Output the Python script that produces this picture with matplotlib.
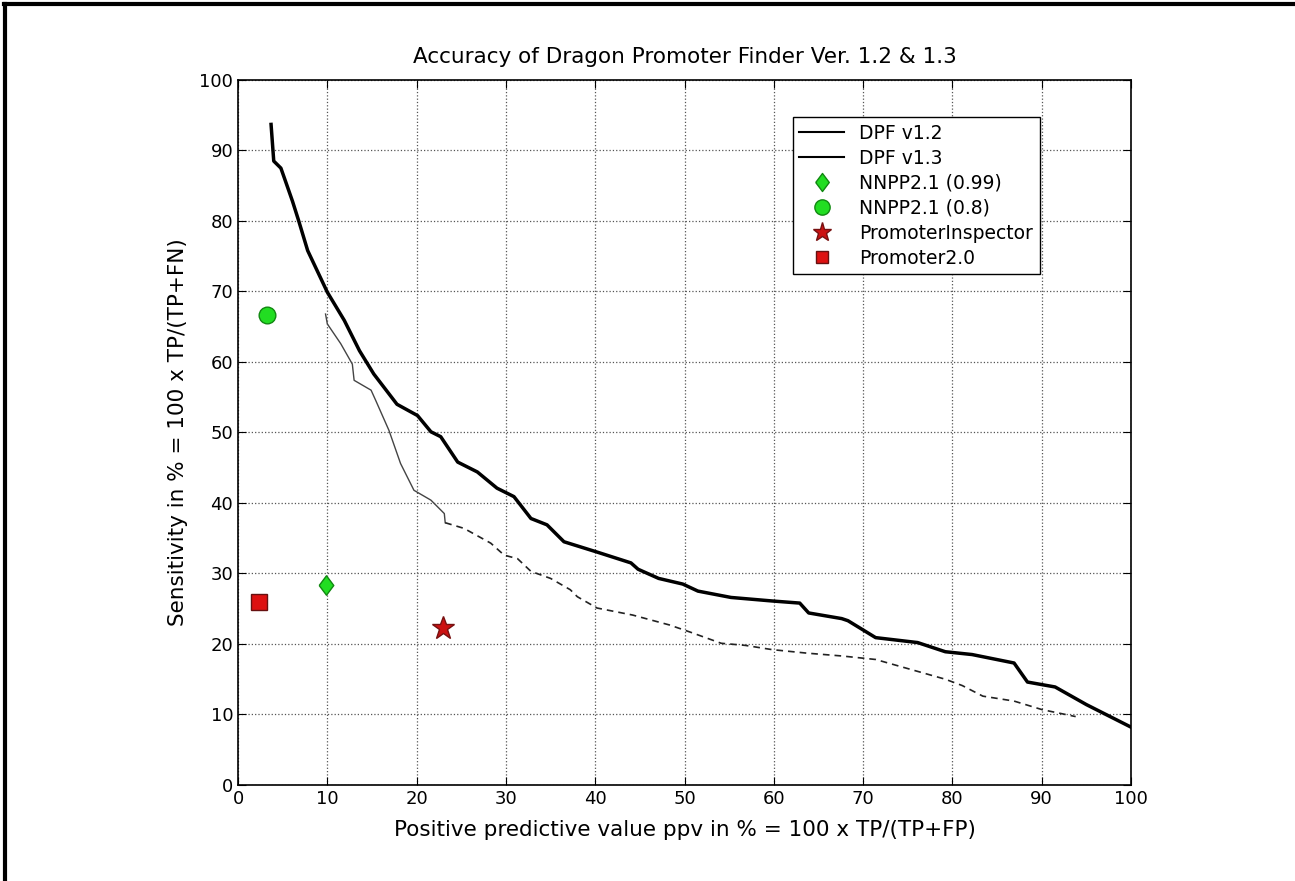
import matplotlib
matplotlib.use('Agg')
import matplotlib.pyplot as plt
from matplotlib.lines import Line2D

plt.rcParams['font.family'] = ['DejaVu Sans']

# DPF v1.2 (thick curve)
v12_ppv = [3.7, 4.0, 4.8, 5.3, 6.1, 6.8, 7.8, 10.0, 11.9, 13.6, 15.2, 17.8, 20.1,
           21.6, 22.7, 24.6, 26.8, 29.0, 30.9, 32.8, 34.6, 36.5, 40.3, 44.0, 44.8,
           47.1, 49.8, 51.5, 55.2, 59.8, 62.9, 63.9, 67.6, 68.3, 71.4, 76.1, 79.2,
           82.2, 86.9, 88.4, 91.5, 95.0, 100.0]
v12_sens = [93.7, 88.5, 87.5, 85.7, 82.8, 80.0, 75.8, 69.9, 65.9, 61.6, 58.3, 54.0, 52.4,
            50.1, 49.4, 45.8, 44.4, 42.1, 40.9, 37.8, 36.9, 34.5, 33.0, 31.5, 30.6,
            29.3, 28.5, 27.5, 26.6, 26.1, 25.8, 24.4, 23.6, 23.3, 20.9, 20.2, 18.9,
            18.5, 17.3, 14.6, 13.9, 11.4, 8.2]

# DPF v1.3 (thin curve)
v13_ppv = [9.8, 10.0, 11.5, 12.8, 13.0, 14.9, 15.4, 16.9, 18.2, 19.7, 21.6, 23.1, 23.2,
           25.3, 28.3, 29.8, 31.3, 32.8, 35.0, 37.2, 38.0, 40.2, 44.2, 48.3, 50.6,
           54.1, 56.8, 59.8, 63.7, 67.6, 71.4, 75.3, 79.2, 81.1, 83.4, 86.9, 90.0, 93.8]
v13_sens = [66.8, 65.4, 62.6, 59.7, 57.4, 56.0, 54.6, 50.3, 45.6, 41.8, 40.4, 38.5, 37.2,
            36.4, 34.3, 32.6, 32.1, 30.3, 29.3, 27.7, 26.7, 25.1, 24.1, 22.7, 21.7,
            20.1, 19.8, 19.2, 18.7, 18.3, 17.8, 16.4, 15.0, 14.1, 12.6, 11.9, 10.7, 9.7]

# other predictors (ppv, sensitivity)
nnpp099 = (9.9, 28.3)
nnpp08 = (3.3, 66.7)
prom_insp = (23.0, 22.2)
prom20 = (2.3, 25.9)

diamond = [(-0.75, 0), (0, 1), (0.75, 0), (0, -1), (-0.75, 0)]

fig = plt.figure(figsize=(12.95, 8.81), dpi=100)
ax = fig.add_axes([0.1838, 0.109, 0.6896, 0.8002])

split = 12
ax.plot(v12_ppv, v12_sens, color='black', lw=2.5, zorder=3)
ax.plot(v13_ppv[:split + 1], v13_sens[:split + 1], color='#444444', lw=1.0, zorder=3)
ax.plot(v13_ppv[split:], v13_sens[split:], color='#222222', lw=1.2,
        linestyle=(0, (4, 3)), zorder=3)

ax.plot(*nnpp099, marker=diamond, color='#22dd22', mec='#118811', ms=14, ls='none', zorder=4)
ax.plot(*nnpp08, marker='o', color='#22dd22', mec='#118811', ms=12, ls='none', zorder=4)
ax.plot(*prom_insp, marker='*', color='#cc1111', mec='#771111', ms=17, ls='none', zorder=4)
ax.plot(*prom20, marker='s', color='#dd1111', mec='#661111', ms=11, ls='none', zorder=4)

ax.set_xlim(0, 100)
ax.set_ylim(0, 100)
ax.set_xticks(range(0, 101, 10))
ax.set_yticks(range(0, 101, 10))
ax.tick_params(direction='in', top=True, right=True, length=6, labelsize=13)
ax.grid(True, linestyle=':', color='#555555', lw=0.9)
for s in ax.spines.values():
    s.set_linewidth(1.2)

ax.set_title('Accuracy of Dragon Promoter Finder Ver. 1.2 & 1.3', fontsize=15.5, pad=12)
ax.set_xlabel('Positive predictive value ppv in % = 100 x TP/(TP+FP)', fontsize=15.5, labelpad=9)
ax.set_ylabel('Sensitivity in % = 100 x TP/(TP+FN)', fontsize=15.5, labelpad=8)

handles = [
    Line2D([], [], color='black', lw=1.5),
    Line2D([], [], color='black', lw=1.5),
    Line2D([], [], marker=diamond, color='#22dd22', mec='#118811', ms=13, ls='none'),
    Line2D([], [], marker='o', color='#22dd22', mec='#118811', ms=11, ls='none'),
    Line2D([], [], marker='*', color='#cc1111', mec='#771111', ms=14, ls='none'),
    Line2D([], [], marker='s', color='#dd1111', mec='#661111', ms=9, ls='none'),
]
labels = ['DPF v1.2', 'DPF v1.3', 'NNPP2.1 (0.99)', 'NNPP2.1 (0.8)',
          'PromoterInspector', 'Promoter2.0']
leg = ax.legend(handles, labels, loc='upper left', bbox_to_anchor=(0.621, 0.947),
                fontsize=13.5, fancybox=False, edgecolor='black', framealpha=1,
                borderpad=0.35, labelspacing=0.32, handlelength=2.4, borderaxespad=0)
leg.get_frame().set_linewidth(1.0)

# figure frame (top and left edges)
fig.add_artist(Line2D([0.003, 1.0], [0.996, 0.996], color='black', lw=3,
                      transform=fig.transFigure))
fig.add_artist(Line2D([0.004, 0.004], [0.0, 0.996], color='black', lw=3,
                      transform=fig.transFigure))

fig.savefig('out.png', dpi=100)
